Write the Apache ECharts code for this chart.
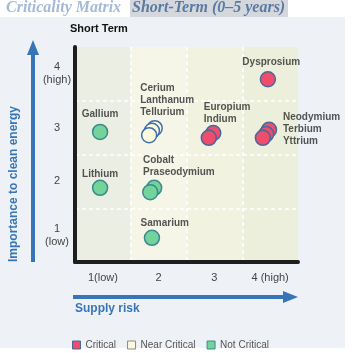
<!doctype html>
<html>
    <head>
        <meta charset="utf-8">
        <style>
            html, body { margin: 0; padding: 0; background: #fff; }
            #main { width: 363px; height: 353px; }
        </style>
    </head>
    <body>
        <div id="main"></div>
        <script src="https://cdn.jsdelivr.net/npm/echarts@6/dist/echarts.min.js"></script>
        <script>
            // axis categories
            var riskLabels = ['1(low)', '2', '3', '4 (high)'];
            var importanceLabels = ['1\n(low)', '2', '3', '4\n(high)'];

            // [supply risk, importance] — stacked circles, back ones first
            var critical = [[3.96, 3.90], [2.98, 2.90], [2.90, 2.81], [3.98, 2.96], [3.93, 2.88], [3.87, 2.81]];
            var nearCritical = [[1.93, 2.99], [1.88, 2.94], [1.83, 2.86]];
            var notCritical = [[0.95, 2.92], [0.95, 1.88], [1.92, 1.88], [1.85, 1.80], [1.88, 0.95]];

            // element names and where their text sits
            var elementNames = ['Dysprosium', 'Europium\nIndium', 'Neodymium\nTerbium\nYttrium',
                'Cerium\nLanthanum\nTellurium', 'Gallium', 'Lithium', 'Cobalt\nPraseodymium', 'Samarium'];
            var namePos = [[4.02, 4.22], [2.81, 3.27], [4.23, 2.97], [1.67, 3.51],
                [0.95, 3.25], [0.95, 2.14], [1.72, 2.29], [2.11, 1.23]];
            var nameAlign = ['center', 'left', 'left', 'left', 'center', 'center', 'left', 'center'];

            var chart = echarts.init(document.getElementById('main'));

            var labelData = elementNames.map(function (n, i) {
                return { name: n, value: namePos[i], label: { align: nameAlign[i] } };
            });

            function dotSeries(name, data, fill, border) {
                return {
                    name: name, type: 'scatter', xAxisIndex: 1, yAxisIndex: 1,
                    symbolSize: 15, data: data, z: 5,
                    itemStyle: { color: fill, borderColor: border, borderWidth: 1.5, opacity: 1 }
                };
            }

            var dash = { show: true, showMinLine: false, showMaxLine: false,
                lineStyle: { color: '#ffffff', width: 1.5, type: [4, 3] } };
            var blue = '#3676b8';
            var font = 'Liberation Sans';

            chart.setOption({
                animation: false,
                textStyle: { fontFamily: font },
                grid: { left: 75, right: 65, top: 47, bottom: 91 },
                legend: {
                    data: ['Critical', { name: 'Near Critical', itemStyle: { borderColor: '#8a8a8a' } }, 'Not Critical'],
                    icon: 'rect', itemWidth: 8, itemHeight: 8, itemGap: 11, itemStyle: { borderWidth: 1 },
                    left: 67, top: 335,
                    textStyle: { fontSize: 10, color: '#555', fontFamily: font }
                },
                xAxis: [{
                    type: 'category', data: riskLabels, boundaryGap: true,
                    axisLine: { lineStyle: { color: '#1e1e1e', width: 4 } },
                    axisTick: { show: false },
                    axisLabel: { fontSize: 11, color: '#444', margin: 10 },
                    splitLine: dash,
                    splitArea: { show: true, areaStyle: { color: ['#ebefe3', '#f5f6e8', '#f1f2e0', '#edefdd'] } }
                }, {
                    type: 'value', min: 0.5, max: 4.5, show: false
                }],
                yAxis: [{
                    type: 'category', data: importanceLabels, boundaryGap: true, z: 1,
                    axisLine: { lineStyle: { color: '#1e1e1e', width: 4 } },
                    axisTick: { show: false },
                    axisLabel: { fontSize: 11, color: '#444', align: 'center', margin: 18, lineHeight: 13 },
                    splitLine: dash
                }, {
                    type: 'value', min: 0.5, max: 4.5, show: false
                }],
                series: [
                    dotSeries('Critical', critical, '#ef4d6b', '#4b679a'),
                    dotSeries('Near Critical', nearCritical, '#fdf9dd', '#3d6fae'),
                    dotSeries('Not Critical', notCritical, '#72d49a', '#3e8890'),
                    {
                        type: 'scatter', xAxisIndex: 1, yAxisIndex: 1, symbolSize: 0,
                        silent: true, z: 6, data: labelData,
                        label: {
                            show: true, position: 'inside', formatter: '{b}',
                            fontSize: 10, fontWeight: 'bold', color: '#2a2a2a', lineHeight: 12
                        }
                    }
                ],
                graphic: [
                    { type: 'rect', z: -10, shape: { x: 0, y: 17, width: 345, height: 331 }, style: { fill: '#eef2f7' } },
                    { type: 'rect', z: -9, shape: { x: 130, y: 0, width: 158, height: 17 }, style: { fill: '#d4d8dd' } },
                    { type: 'text', left: 6, top: 0, style: { text: 'Criticality Matrix', fill: '#a3bad8',
                        font: 'italic bold 16px "Liberation Serif"' } },
                    { type: 'text', left: 132, top: 0, style: { text: 'Short-Term (0\u20135 years)', fill: '#5b7aa3',
                        font: 'italic bold 16px "Liberation Serif"' } },
                    { type: 'text', left: 70, top: 23, style: { text: 'Short Term', fill: '#111',
                        font: 'bold 11px "Liberation Sans"' } },
                    // vertical arrow
                    { type: 'line', shape: { x1: 33, y1: 262, x2: 33, y2: 52 }, style: { stroke: blue, lineWidth: 4 } },
                    { type: 'polygon', shape: { points: [[33, 40], [27, 55], [39, 55]] }, style: { fill: blue } },
                    { type: 'text', x: 14, y: 262, rotation: Math.PI / 2, style: { text: 'Importance to clean energy',
                        fill: blue, font: 'bold 12px "Liberation Sans"', align: 'left', verticalAlign: 'middle' } },
                    // horizontal arrow
                    { type: 'line', shape: { x1: 73, y1: 297, x2: 286, y2: 297 }, style: { stroke: blue, lineWidth: 4 } },
                    { type: 'polygon', shape: { points: [[298, 297], [283, 291], [283, 303]] }, style: { fill: blue } },
                    { type: 'text', left: 75, top: 303, style: { text: 'Supply risk', fill: blue,
                        font: 'bold 12px "Liberation Sans"' } }
                ]
            });

            window.addEventListener('resize', function () {
                chart.resize();
            });
        </script>
    </body>
</html>
